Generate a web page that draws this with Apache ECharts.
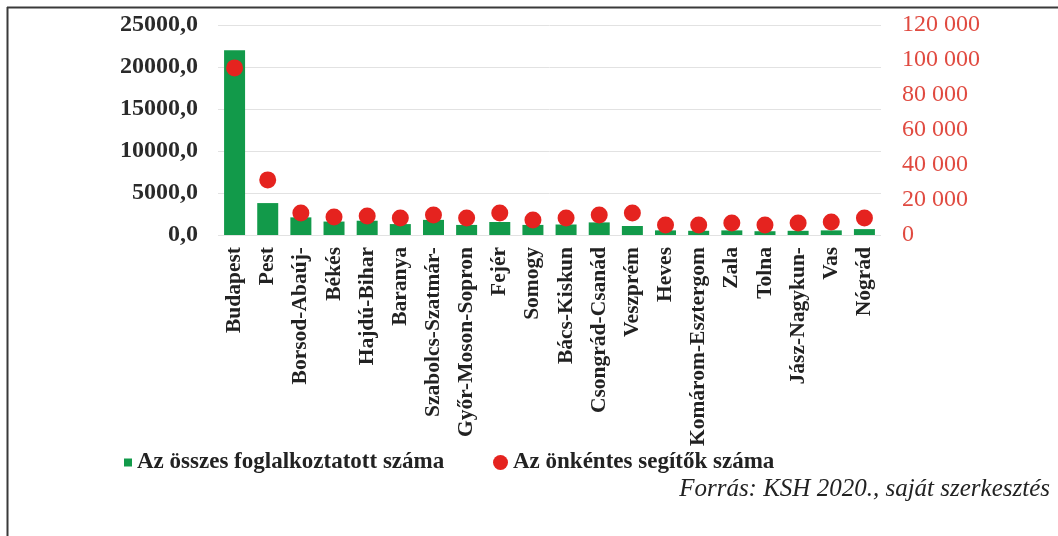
<!DOCTYPE html>
<html>
<head>
<meta charset="utf-8">
<script src="https://cdn.jsdelivr.net/npm/echarts@6/dist/echarts.min.js"></script>
<style>
html,body{margin:0;padding:0;background:#fff;}
#c{width:1058px;height:536px;}
</style>
</head>
<body>
<div id="c"></div>
<script>
var categories = ['Budapest','Pest','Borsod-Abaúj-','Békés','Hajdú-Bihar','Baranya','Szabolcs-Szatmár-','Győr-Moson-Sopron','Fejér','Somogy','Bács-Kiskun','Csongrád-Csanád','Veszprém','Heves','Komárom-Esztergom','Zala','Tolna','Jász-Nagykun-','Vas','Nógrád'];
var employed = [22000, 3800, 2100, 1600, 1700, 1300, 1800, 1200, 1550, 1200, 1250, 1500, 1070, 550, 500, 550, 450, 500, 550, 700];
var volunteers = [95500, 31500, 12600, 10300, 10900, 9700, 11400, 9700, 12600, 8600, 9700, 11400, 12600, 5700, 5700, 6900, 5700, 6900, 7400, 9700];
var seriesNames = ['Az összes foglalkoztatott száma', 'Az önkéntes segítők száma'];
var sourceText = 'Forrás: KSH 2020., saját szerkesztés';

var serif = '"Liberation Serif", "DejaVu Serif", serif';
var chart = echarts.init(document.getElementById('c'), null, {renderer: 'canvas'});
chart.setOption({
  animation: false,
  backgroundColor: '#fff',
  grid: {left: 218, right: 177, top: 25, bottom: 301, containLabel: false},
  xAxis: {
    type: 'category',
    data: categories,
    axisLine: {show: false},
    axisTick: {show: false},
    axisLabel: {
      rotate: 90, interval: 0, margin: 12,
      fontFamily: serif, fontSize: 21.5, fontWeight: 'bold', color: '#222'
    }
  },
  yAxis: [{
    type: 'value', min: 0, max: 25000, interval: 5000,
    axisLine: {show: false}, axisTick: {show: false},
    splitLine: {lineStyle: {color: '#e2e2e2', width: 1}},
    axisLabel: {
      margin: 20, fontFamily: serif, fontSize: 24, fontWeight: 'bold', color: '#2a2a2a',
      formatter: function (v) { return v.toFixed(1).replace('.', ','); }
    }
  }, {
    type: 'value', min: 0, max: 120000, interval: 20000,
    axisLine: {show: false}, axisTick: {show: false},
    splitLine: {show: false},
    axisLabel: {
      margin: 21, fontFamily: serif, fontSize: 24, color: '#e04a40',
      formatter: function (v) { return String(v).replace(/\B(?=(\d{3})+(?!\d))/g, ' '); }
    }
  }],
  legend: [{
    data: [seriesNames[0]], left: 119, top: 446,
    icon: 'rect', itemWidth: 8, itemHeight: 8,
    textStyle: {fontFamily: serif, fontSize: 23, fontWeight: 'bold', color: '#222'}
  }, {
    data: [seriesNames[1]], left: 488, top: 446,
    icon: 'circle', itemWidth: 15, itemHeight: 15,
    textStyle: {fontFamily: serif, fontSize: 23, fontWeight: 'bold', color: '#222'}
  }],
  title: {
    text: sourceText, right: 3, top: 472,
    textStyle: {fontFamily: serif, fontSize: 25, fontStyle: 'italic', fontWeight: 'normal', color: '#222'}
  },
  graphic: [
    {type: 'line', shape: {x1: 7, y1: 7.5, x2: 1058, y2: 7.5}, style: {stroke: '#3a3a3a', lineWidth: 2}},
    {type: 'line', shape: {x1: 7.5, y1: 7, x2: 7.5, y2: 536}, style: {stroke: '#3a3a3a', lineWidth: 2}}
  ],
  series: [{
    name: seriesNames[0], type: 'bar', yAxisIndex: 0, data: employed,
    barWidth: 21, itemStyle: {color: '#129a4a'}
  }, {
    name: seriesNames[1], type: 'scatter', yAxisIndex: 1, data: volunteers,
    symbol: 'circle', symbolSize: 17, itemStyle: {color: '#e5231f', opacity: 1}, z: 3
  }]
});
</script>
</body>
</html>
